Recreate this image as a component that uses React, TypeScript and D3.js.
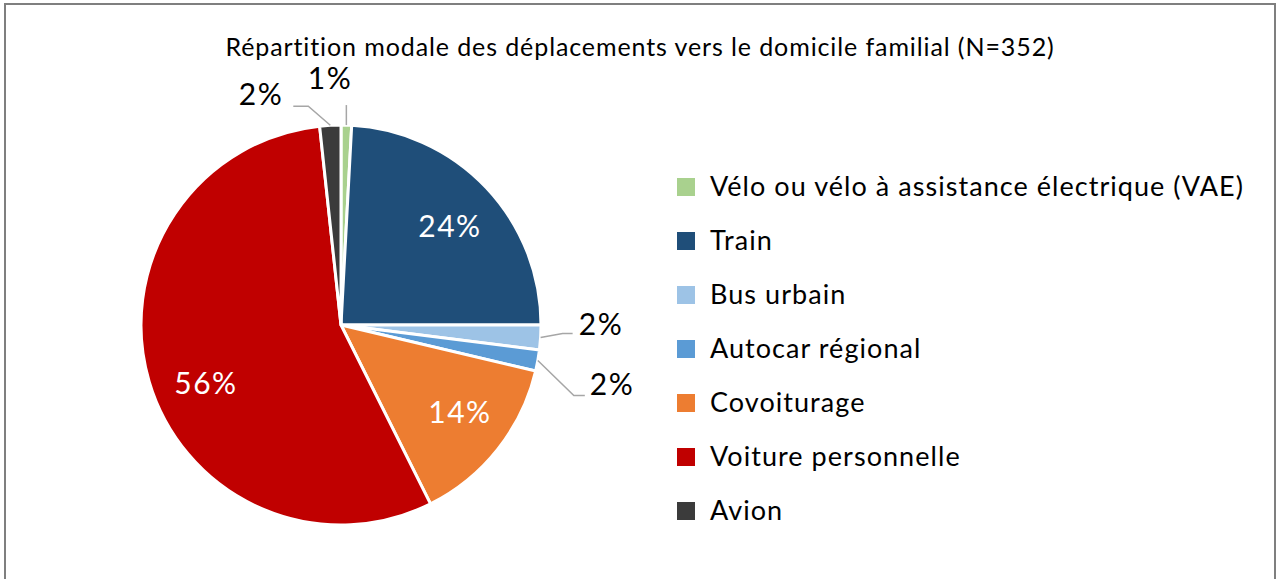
import React from "react";
import * as d3 from "d3";

const categories = [
  "Vélo ou vélo à assistance électrique (VAE)",
  "Train",
  "Bus urbain",
  "Autocar régional",
  "Covoiturage",
  "Voiture personnelle",
  "Avion",
];
const counts = [3, 85, 7, 6, 49, 196, 6];
const colors = ["#a9d18e", "#1f4e79", "#9dc3e6", "#5b9bd5", "#ed7d31", "#c00000", "#3b3b3b"];
const title = "Répartition modale des déplacements vers le domicile familial (N=352)";

const W = 1278, H = 579;
const cx = 341, cy = 325, R = 200;
const font = "Lato, 'Open Sans', sans-serif";

export default function App() {
  const total = d3.sum(counts);
  const pie = d3.pie<number>().sort(null).value((d) => d);
  const arcs = pie(counts);
  const arc = d3.arc<d3.PieArcDatum<number>>().innerRadius(0).outerRadius(R);
  const pct = counts.map((c) => `${Math.round((c / total) * 100)}%`);

  const outside: Record<number, { tx: number; ty: number; path: (p: [number, number]) => string }> = {
    0: { tx: 330, ty: 89, path: (p) => `M${p[0]},${p[1]}L${p[0]},${p[1] - 20}` },
    6: { tx: 261, ty: 105, path: (p) => `M${p[0]},${p[1]}L${p[0] - 22},${p[1] - 19}L${p[0] - 37},${p[1] - 19}` },
    2: { tx: 601, ty: 335, path: (p) => `M${p[0]},${p[1]}L${p[0] + 22},${p[1] - 4}L${p[0] + 32},${p[1] - 4}` },
    3: { tx: 612, ty: 395, path: (p) => `M${p[0]},${p[1]}L${p[0] + 36},${p[1] + 35}L${p[0] + 47},${p[1] + 35}` },
  };
  const inside: Record<number, [number, number]> = { 1: [450, 237], 4: [460, 423], 5: [206, 394] };

  return (
    <div style={{ position: "absolute", left: 0, top: 0 }}>
      <svg width={W} height={H} style={{ display: "block" }}>
        <rect x={0} y={0} width={W} height={H} fill="#fff" />
        <path d={`M5,${H}L5,4L1275,4L1275,${H}`} fill="none" stroke="#7f7f7f" strokeWidth={2} />
        <text x={640} y={56} textAnchor="middle" fontFamily={font} fontSize={25} letterSpacing={0.9} fill="#000">{title}</text>
        <g transform={`translate(${cx},${cy})`}>
          {arcs.map((a, i) => (
            <path key={i} d={arc(a) || ""} fill={colors[i]} stroke="#fff" strokeWidth={3} strokeLinejoin="round" />
          ))}
        </g>
        {arcs.map((a, i) => {
          if (outside[i]) {
            const mid = (a.startAngle + a.endAngle) / 2;
            const p: [number, number] = [cx + Math.sin(mid) * R, cy - Math.cos(mid) * R];
            const o = outside[i];
            return (
              <g key={i}>
                <path d={o.path(p)} fill="none" stroke="#a6a6a6" strokeWidth={1.5} />
                <text x={o.tx} y={o.ty} textAnchor="middle" fontFamily={font} fontSize={30} letterSpacing={1.5} fill="#000">{pct[i]}</text>
              </g>
            );
          }
          const q = inside[i];
          return (
            <text key={i} x={q[0]} y={q[1]} textAnchor="middle" fontFamily={font} fontSize={30} letterSpacing={1.5} fill="#fff">{pct[i]}</text>
          );
        })}
        {categories.map((c, i) => (
          <g key={c} transform={`translate(677,${178 + i * 54})`}>
            <rect x={0} y={0} width={18} height={18} fill={colors[i]} />
            <text x={33} y={18} fontFamily={font} fontSize={27} letterSpacing={1.05} fill="#000">{c}</text>
          </g>
        ))}
      </svg>
    </div>
  );
}
